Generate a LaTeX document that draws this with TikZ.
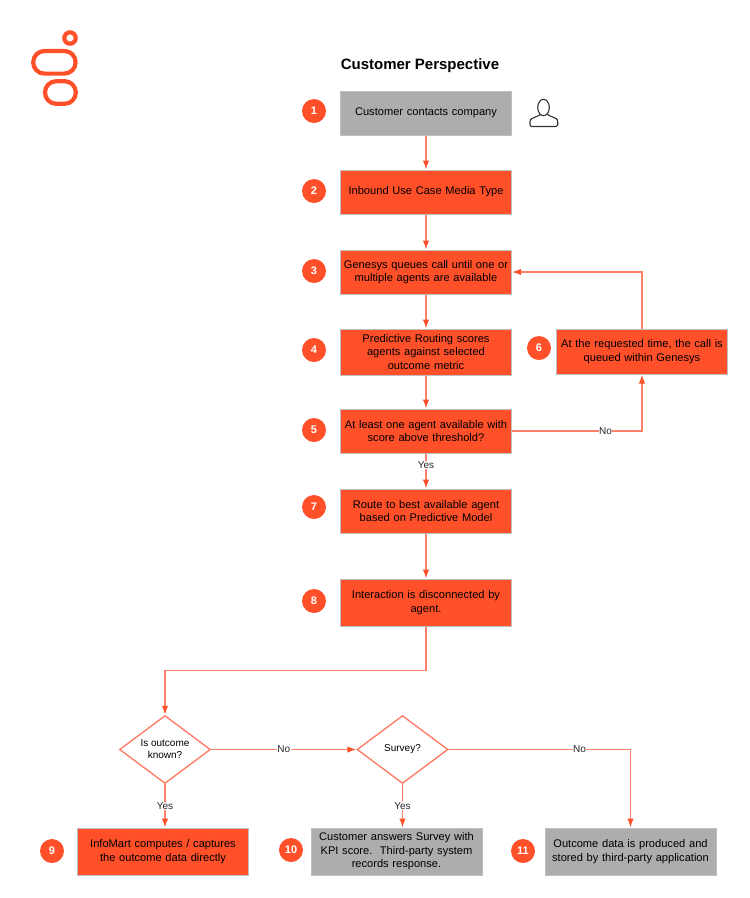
\documentclass[tikz,border=0pt]{standalone}
\usepackage{fontspec}
\setmainfont{Liberation Sans}
\usepackage{xcolor}
\usetikzlibrary{arrows.meta,positioning,calc,shapes.geometric}
\definecolor{gorange}{HTML}{FF5029}
\definecolor{gline}{HTML}{FF7F68}
\definecolor{ggrey}{HTML}{ADADAD}
\definecolor{gedge}{HTML}{BFBFBF}

\begin{document}
\begin{tikzpicture}[x=1pt,y=-1pt,>={Latex[length=9pt,width=6.5pt,color=gorange]},
  proc/.style={rectangle,draw=gedge,line width=1pt,fill=gorange,text width=168pt,align=center,inner sep=1pt,minimum width=171pt,font=\fontsize{11.1}{13.6}\selectfont},
  grey/.style={proc,fill=ggrey},
  dec/.style={diamond,draw=gline,line width=1.4pt,fill=white,aspect=1.35,minimum width=91pt,minimum height=68pt,inner sep=0pt,align=center,font=\fontsize{10}{12}\selectfont},
  num/.style={circle,fill=gorange,text=white,minimum size=24pt,inner sep=0pt,font=\fontsize{11}{13}\selectfont\bfseries},
  lab/.style={fill=white,text=black!85,inner sep=0.5pt,font=\fontsize{10}{11}\selectfont},
  link/.style={->,gline,line width=1.4pt}]
\useasboundingbox (0,0) rectangle (750,898);
% logo
\draw[gorange,line width=4.2pt] (70,38) circle (5.7);
\draw[gorange,line width=4.2pt,rounded corners=11.2pt] (33.2,51) rectangle (75.6,73.6);
\draw[gorange,line width=4.2pt,rounded corners=11.2pt] (45,81.2) rectangle (75.8,103.8);
\node[font=\fontsize{15}{17}\selectfont\bfseries] (title) at (420,66) {Customer Perspective};
% boxes
\node[grey,minimum height=44pt] (s1) at (426,113) {Customer contacts company};
\node[proc,minimum height=44pt] (s2) at (426,192) {Inbound Use Case Media Type};
\node[proc,minimum height=44pt] (s3) at (426,272) {Genesys queues call until one or\\multiple agents are available};
\node[proc,minimum height=46pt] (s4) at (426,352) {Predictive Routing scores\\agents against selected\\outcome metric};
\node[proc,minimum height=44pt] (s5) at (426,431) {At least one agent available with\\score above threshold?};
\node[proc,minimum height=45pt] (s6) at (642,351.5) {At the requested time, the call is\\queued within Genesys};
\node[proc,minimum height=44pt] (s7) at (426,511) {Route to best available agent\\based on Predictive Model};
\node[proc,minimum height=47pt] (s8) at (426,602.5) {Interaction is disconnected by\\agent.};
\node[dec] (d1) at (165,749.5) {Is outcome\\known?};
\node[dec] (d2) at (402.5,749.5) {Survey?};
\node[proc,minimum height=47pt] (s9) at (163,851.5) {InfoMart computes / captures\\the outcome data directly};
\node[grey,minimum height=47pt] (s10) at (396.5,851.5) {Customer answers Survey with\\KPI score.\ \ Third-party system\\records response.};
\node[grey,minimum height=47pt] (s11) at (630.5,851.5) {Outcome data is produced and\\stored by third-party application};
% numbers
\node[num] (n1) at (314,111) {1};
\node[num] (n2) at (314,191) {2};
\node[num] (n3) at (314,271) {3};
\node[num] (n4) at (314,350) {4};
\node[num] (n5) at (314,430) {5};
\node[num] (n6) at (539,348) {6};
\node[num] (n7) at (314,507) {7};
\node[num] (n8) at (314,601) {8};
\node[num] (n9) at (52,851) {9};
\node[num] (n10) at (291,850) {10};
\node[num] (n11) at (523,851) {11};
% person
\draw[black!80,line width=1.1pt] (543.5,107.5) ellipse (5.8 and 8.2);
\draw[black!80,line width=1.1pt,line join=round] (540,114) -- (540,115) -- (532,118.5) .. controls (530.5,119) and (530,120) .. (530,122) -- (530,125) .. controls (530,126) and (531,126.5) .. (532,126.5) -- (556,126.5) .. controls (557,126.5) and (557.7,126) .. (557.7,125) -- (557.7,122) .. controls (557.7,120) and (557,119) .. (556,118.5) -- (548,115) -- (547.5,113.5);
% links
\draw[link] (s1)--(s2);
\draw[link] (s2)--(s3);
\draw[link] (s3)--(s4);
\draw[link] (s4)--(s5);
\draw[link] (s5)--(s7) node[lab,pos=0.33] {Yes};
\draw[link] (s5.east) -| (s6.south) node[lab,pos=0.36] {No};
\draw[link] (s6.north) |- (s3.east);
\draw[link] (s7)--(s8);
\draw[link] (s8.south) -- ++(0,44) -| (d1.north);
\draw[link] (d1.east)--(d2.west) node[lab,midway] {No};
\draw[link] (d2.east) -| (s11.north) node[lab,pos=0.36] {No};
\draw[link] (d1.south)--(d1.south |- s9.north) node[lab,midway] {Yes};
\draw[link] (d2.south)--(d2.south |- s10.north) node[lab,midway] {Yes};
\end{tikzpicture}
\end{document}
